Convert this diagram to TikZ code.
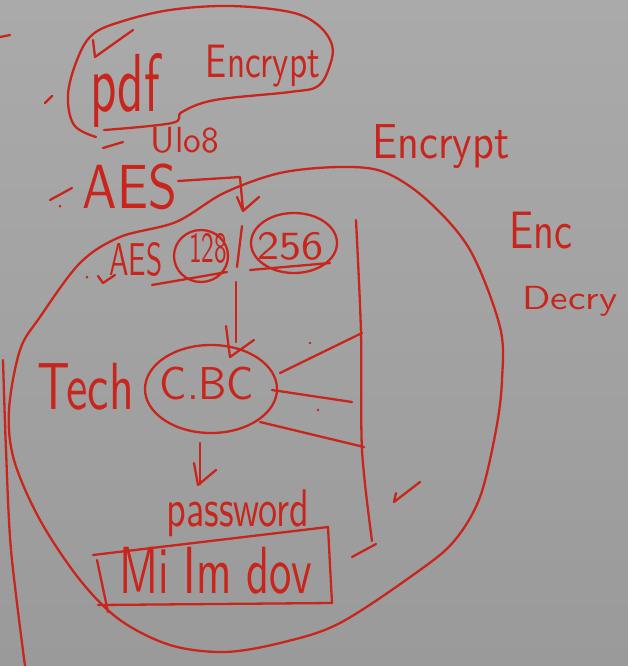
\documentclass[tikz,border=0pt]{standalone}
\usepackage{graphicx}
\definecolor{ink}{RGB}{200,38,28}
\definecolor{bgtop}{RGB}{170,170,170}
\definecolor{bgbot}{RGB}{154,154,154}
\tikzset{
  pen/.style={draw=ink, line width=2.3pt, line cap=round, line join=round},
  lbl/.style={text=ink, inner sep=0pt, font=\sffamily},
}
\newcommand{\hw}[3]{\resizebox*{#1}{#2}{#3}}
\begin{document}
\begin{tikzpicture}[x=1pt,y=-1pt]
\useasboundingbox (0,0) rectangle (628,666);
\shade[top color=bgtop, bottom color=bgbot] (0,0) rectangle (628,666);

% ---- texts ----
\node[lbl] (pdf)  at (125,90)  {\hw{70pt}{74pt}{pdf}};
\node[lbl] (enc1) at (263,66)  {\hw{114pt}{42pt}{Encrypt}};
\node[lbl] (ulo)  at (185,140) {\hw{68pt}{26pt}{Ulo8}};
\node[lbl] (aes)  at (130,187) {\hw{94pt}{46pt}{AES}};
\node[lbl] (enc2) at (441,147) {\hw{137pt}{44pt}{Encrypt}};
\node[lbl] (encs) at (541,231) {\hw{63pt}{37pt}{Enc}};
\node[lbl] (dec)  at (570,301) {\hw{95pt}{30pt}{Decry}};
\node[lbl] (aess) at (136,260) {\hw{53pt}{34pt}{AES}};
\node[lbl] (t128) at (208,248) {\hw{38pt}{30pt}{128}};
\node[lbl] (t256) at (290,246) {\hw{66pt}{28pt}{256}};
\node[lbl] (tech) at (86,387)  {\hw{96pt}{47pt}{Tech}};
\node[lbl] (cbc)  at (207,383) {\hw{94pt}{33pt}{C.BC}};
\node[lbl] (pwd)  at (238,513) {\hw{143pt}{47pt}{password}};
\node[lbl] (mi)   at (216,571) {\hw{193pt}{47pt}{Mi Im dov}};

% ---- pdf blob ----
\draw[pen] plot[smooth, tension=0.6] coordinates {(104,130) (172,123) (182,112) (215,100) (290,92) (318,86) (330,65) (332,45) (318,25) (290,12) (230,6) (170,10) (120,22) (92,35) (77,60) (68,95) (74,125) (96,137)};
\draw[pen] (93,40) -- (95,57) -- (133,30);
\draw[pen] (0,37) -- (10,35);
\draw[pen] (45,103) -- (52,96);
\draw[pen] (103,148) -- (123,142);
\draw[pen] (50,200) -- (72,188);
\fill[ink] (60,206) circle (1.5pt);

% ---- big circle ----
\draw[pen] plot[smooth cycle, tension=0.55] coordinates {(340,167) (384,172) (427,200) (470,250) (500,327) (502,380) (496,430) (480,497) (455,540) (420,570) (340,623) (280,643) (224,652) (170,645) (120,620) (80,580) (40,520) (14,460) (9,410) (20,350) (40,317) (80,263) (120,237) (176,222) (224,193) (280,173)};

% ---- left vertical line ----
\draw[pen] plot[smooth] coordinates {(3,360) (6,450) (11,550) (25,666)};

% ---- AES arrow ----
\coordinate (a1) at (178,181);
\coordinate (a2) at (240,177);
\coordinate (a3) at (243,210);
\draw[pen] (a1) -- (a2) -- (a3);
\draw[pen] (237,197) -- (243,211) -- (259,197);

% ---- AES 128 / 256 ----
\draw[pen] (201,256) ellipse (27pt and 26pt);
\draw[pen] (294,243) ellipse (43pt and 30pt);
\draw[pen] (242,226) -- (237,267);
\draw[pen] (152,285) -- (227,272);
\draw[pen] (250,270) -- (330,263);
\fill[ink] (87,277) circle (1.5pt);
\draw[pen] (98,276) -- (103,283) -- (115,275);

% ---- arrow to CBC ----
\coordinate (b1) at (236,282);
\coordinate (b2) at (236,342);
\draw[pen] (b1) -- (b2);
\draw[pen] (226,326) -- (230,357) -- (254,340);

% ---- CBC ellipse ----
\draw[pen] (211,389) ellipse (66pt and 44pt);

% ---- right vertical line and rays ----
\draw[pen] plot[smooth] coordinates {(356,220) (361,333) (362,450) (372,541)};
\draw[pen] (280,373) -- (362,333);
\draw[pen] (272,390) -- (352,402);
\draw[pen] (260,422) -- (364,447);
\fill[ink] (310,343) circle (1.3pt);
\fill[ink] (318,410) circle (1.3pt);

% ---- arrow to password ----
\coordinate (c1) at (200,443);
\coordinate (c2) at (200,484);
\draw[pen] (c1) -- (c2);
\draw[pen] (194,463) -- (198,485) -- (216,470);

% ---- Mi Im dov box ----
\draw[pen] (93,555) -- (328,527) -- (332,603) -- (98,605);
\draw[pen] (97,560) -- (108,612);

% ---- ticks ----
\draw[pen] (396,493) -- (394,502) -- (420,482);
\draw[pen] (352,557) -- (376,544);
\end{tikzpicture}
\end{document}
